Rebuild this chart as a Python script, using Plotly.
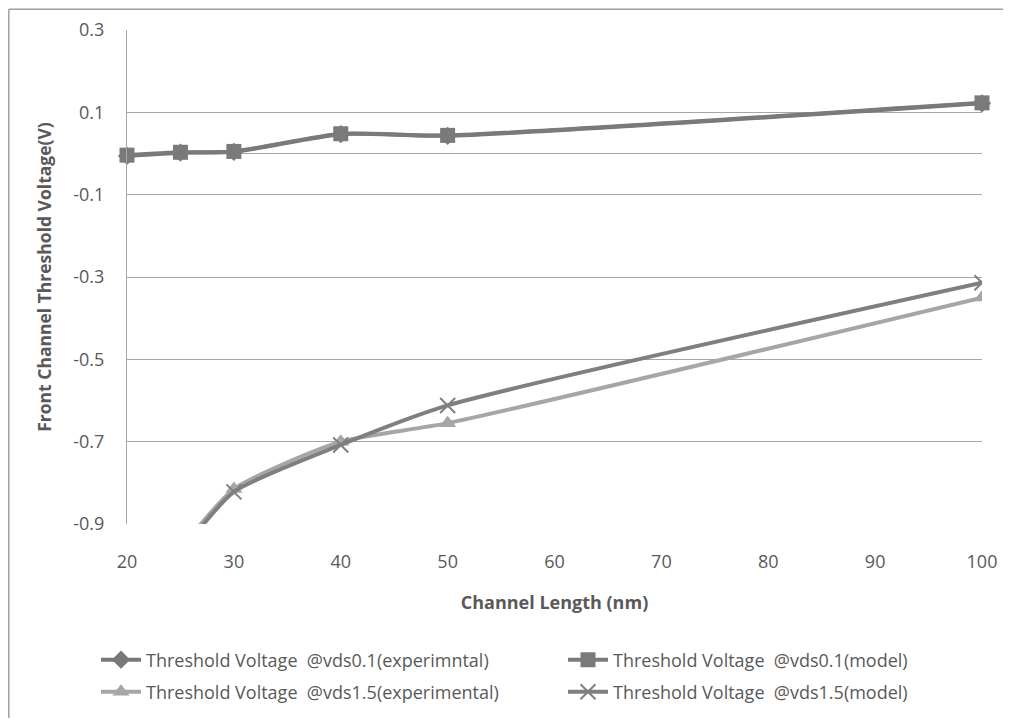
import plotly.graph_objects as go

# ---- data ----
channel_length = [20, 25, 30, 40, 50, 100]
vt_vds01_exp = [-0.006, 0.002, 0.004, 0.047, 0.043, 0.122]
vt_vds01_model = [-0.004, 0.003, 0.005, 0.048, 0.044, 0.123]
vt_vds15_exp = [-1.12, -0.96, -0.815, -0.700, -0.655, -0.350]
vt_vds15_model = [-1.15, -0.97, -0.822, -0.708, -0.612, -0.314]

x_ticks = [20, 30, 40, 50, 60, 70, 80, 90, 100]
y_ticks = [0.3, 0.1, -0.1, -0.3, -0.5, -0.7, -0.9]

names = [
    "Threshold Voltage  @vds0.1(experimntal)",
    "Threshold Voltage  @vds0.1(model)",
    "Threshold Voltage  @vds1.5(experimental)",
    "Threshold Voltage  @vds1.5(model)",
]

FONT = "'Open Sans', sans-serif"
FS = 18
TXT = "#595959"
OFF = 8  # page body margin
W, H = 1011 - 2 * OFF, 726 - 2 * OFF
ML = 127 - OFF
MR = W - (982 - OFF)
MT = 29.5 - OFF
MB = H - (524 - OFF)
PW = W - ML - MR
PH = H - MT - MB

fig = go.Figure()

fig.add_trace(go.Scatter(
    x=channel_length, y=vt_vds01_exp, name=names[0], mode="lines+markers",
    line=dict(color="#787878", width=4, shape="spline", smoothing=0.6),
    marker=dict(symbol="diamond", size=14, color="#787878"),
    cliponaxis=False, legend="legend"))
fig.add_trace(go.Scatter(
    x=channel_length, y=vt_vds01_model, name=names[1], mode="lines+markers",
    line=dict(color="#7a7a7a", width=4, shape="spline", smoothing=0.6),
    marker=dict(symbol="square", size=15, color="#7a7a7a"),
    cliponaxis=False, legend="legend2"))
fig.add_trace(go.Scatter(
    x=channel_length, y=vt_vds15_exp, name=names[2], mode="lines+markers",
    line=dict(color="#a6a6a6", width=4, shape="spline", smoothing=0.6),
    marker=dict(symbol="triangle-up", size=15, color="#a6a6a6"), legend="legend3"))
fig.add_trace(go.Scatter(
    x=channel_length, y=vt_vds15_model, name=names[3], mode="lines+markers",
    line=dict(color="#7f7f7f", width=4, shape="spline", smoothing=0.6),
    marker=dict(symbol="x-thin-open", size=15, color="#7f7f7f",
                line=dict(width=2, color="#8a8a8a")), legend="legend4"))


def leg(xpx, ypx):
    return dict(
        orientation="h", xref="container", yref="container",
        xanchor="left", yanchor="middle",
        x=(xpx - OFF) / W, y=1 - (ypx - OFF) / H,
        font=dict(family=FONT, size=FS, color=TXT),
        bgcolor="rgba(0,0,0,0)", itemwidth=40,
    )


fig.update_layout(
    width=W, height=H,
    margin=dict(l=ML, r=MR, t=MT, b=MB, autoexpand=False),
    paper_bgcolor="white", plot_bgcolor="white",
    font=dict(family=FONT, size=FS, color=TXT),
    legend=leg(96, 660),
    legend2=leg(563, 660),
    legend3=leg(96, 692),
    legend4=leg(563, 692),
    xaxis=dict(
        range=[20, 100], tickvals=x_ticks, ticktext=[str(v) for v in x_ticks],
        showgrid=False, zeroline=False, showline=False, ticks="",
        automargin=False,
        tickfont=dict(family=FONT, size=FS, color=TXT),
        ticklabelstandoff=25,
        title=dict(text="<b>Channel Length (nm)</b>", standoff=24,
                   font=dict(family=FONT, size=FS, color=TXT)),
    ),
    yaxis=dict(
        range=[-0.9, 0.3], tickvals=y_ticks, ticktext=[f"{v:g}" for v in y_ticks],
        showgrid=True, gridcolor="#a6a6a6", gridwidth=1.3,
        zeroline=True, zerolinecolor="#a6a6a6", zerolinewidth=1.3,
        showline=True, linecolor="#a6a6a6", linewidth=1.3, ticks="",
        automargin=False,
        tickfont=dict(family=FONT, size=FS, color=TXT),
        ticklabelstandoff=18,
        title=dict(text="<b>Front Channel Threshold Voltage(V)</b>", standoff=17,
                   font=dict(family=FONT, size=17.5, color=TXT)),
    ),
    showlegend=True,
)

# outer chart-area border (left and top edges visible in reference)
BX = (0.8 - ML) / PW          # paper x of left border (figure px 0.8)
BY = 1 + (MT - 0.8) / PH      # paper y of top border (figure px 0.8)
fig.add_shape(type="line", xref="paper", yref="paper",
              x0=BX, x1=BX, y0=-(H + 10 - MT - PH) / PH, y1=BY,
              line=dict(color="#a0a0a0", width=1.5))
fig.add_shape(type="line", xref="paper", yref="paper",
              x0=BX, x1=(W + 20 - ML) / PW, y0=BY, y1=BY,
              line=dict(color="#a0a0a0", width=1.5))

fig.write_html("out.html")
